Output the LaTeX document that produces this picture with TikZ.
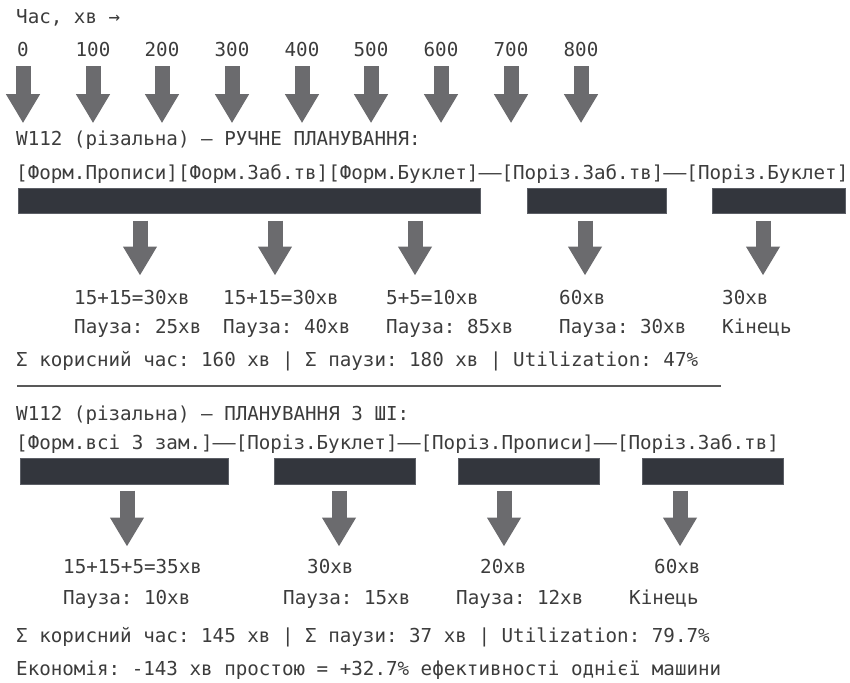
\documentclass[tikz,border=0pt]{standalone}
\usepackage{fontspec}
\setmonofont{DejaVu Sans Mono}
\usepackage{tikz}
\usetikzlibrary{positioning, calc}
\usetikzlibrary{arrows.meta}
\definecolor{textgray}{HTML}{3C3C3C}
\definecolor{arrowgray}{HTML}{6B6B6E}
\definecolor{bardark}{HTML}{33363D}
\definecolor{baredge}{HTML}{5C5F66}
\tikzstyle{txt}=[inner sep=0pt,anchor=base west,text=textgray,
font=\ttfamily\fontsize{19.2}{23}\selectfont]
\tikzstyle{tlabel}=[txt,anchor=base]
\tikzstyle{barbox}=[rectangle,anchor=north west,inner sep=0pt,
fill=bardark,draw=baredge,line width=0.6pt,minimum height=25pt]
\tikzstyle{bigarrow}=[color=arrowgray,line width=15pt,
-{Triangle[width=32pt,length=29pt,fill=arrowgray]}]
\tikzstyle{sepline}=[draw=textgray!85,line width=1.4pt]
\newcommand{\wdash}{\makebox[1.2em]{\scalebox{2}[1]{—}}}

\begin{document}
\begin{tikzpicture}[x=1pt,y=-1pt]
    \useasboundingbox (0,0) rectangle (850,682);

    % time axis
    \node[txt] (axis) at (16,24) {Час, хв →};
    \node[tlabel] (t0) at (23,57) {0};
    \node[tlabel] (t1) at (93,57) {100};
    \node[tlabel] (t2) at (162,57) {200};
    \node[tlabel] (t3) at (232,57) {300};
    \node[tlabel] (t4) at (302,57) {400};
    \node[tlabel] (t5) at (371,57) {500};
    \node[tlabel] (t6) at (441,57) {600};
    \node[tlabel] (t7) at (511,57) {700};
    \node[tlabel] (t8) at (581,57) {800};

    % manual planning
    \node[txt] (h1) at (16,145) {W112 (різальна) — РУЧНЕ ПЛАНУВАННЯ:};
    \draw[bigarrow] ($(t0.south)+(0,9)$) -- ($(t0.south |- h1.north)+(0,-7)$);
    \draw[bigarrow] ($(t1.south)+(0,9)$) -- ($(t1.south |- h1.north)+(0,-7)$);
    \draw[bigarrow] ($(t2.south)+(0,9)$) -- ($(t2.south |- h1.north)+(0,-7)$);
    \draw[bigarrow] ($(t3.south)+(0,9)$) -- ($(t3.south |- h1.north)+(0,-7)$);
    \draw[bigarrow] ($(t4.south)+(0,9)$) -- ($(t4.south |- h1.north)+(0,-7)$);
    \draw[bigarrow] ($(t5.south)+(0,9)$) -- ($(t5.south |- h1.north)+(0,-7)$);
    \draw[bigarrow] ($(t6.south)+(0,9)$) -- ($(t6.south |- h1.north)+(0,-7)$);
    \draw[bigarrow] ($(t7.south)+(0,9)$) -- ($(t7.south |- h1.north)+(0,-7)$);
    \draw[bigarrow] ($(t8.south)+(0,9)$) -- ($(t8.south |- h1.north)+(0,-7)$);

    \node[txt] (seq1) at (16,179) {[Форм.Прописи][Форм.Заб.тв][Форм.Буклет]\wdash[Поріз.Заб.тв]\wdash[Поріз.Буклет]};
    \node[barbox,minimum width=462pt] (b11) at (18,188) {};
    \node[barbox,minimum width=139pt] (b12) at (527,188) {};
    \node[barbox,minimum width=133pt] (b13) at (712,188) {};

    \node[txt] (v11) at (74,304) {15+15=30хв};
    \node[txt] (v12) at (223,304) {15+15=30хв};
    \node[txt] (v13) at (386,304) {5+5=10хв};
    \node[txt] (v14) at (559,304) {60хв};
    \node[txt] (v15) at (722,304) {30хв};
    \node[txt] (u11) at (74,333) {Пауза: 25хв};
    \node[txt] (u12) at (223,333) {Пауза: 40хв};
    \node[txt] (u13) at (386,333) {Пауза: 85хв};
    \node[txt] (u14) at (559,333) {Пауза: 30хв};
    \node[txt] (u15) at (722,333) {Кінець};

    \coordinate (p11) at (140,0);
    \coordinate (p12) at (275,0);
    \coordinate (p13) at (415,0);
    \coordinate (p14) at (585,0);
    \coordinate (p15) at (763,0);
    \draw[bigarrow] ($(b11.south -| p11)+(0,7)$) -- ($(v11.north -| p11)+(0,-14)$);
    \draw[bigarrow] ($(b11.south -| p12)+(0,7)$) -- ($(v12.north -| p12)+(0,-14)$);
    \draw[bigarrow] ($(b11.south -| p13)+(0,7)$) -- ($(v13.north -| p13)+(0,-14)$);
    \draw[bigarrow] ($(b12.south -| p14)+(0,7)$) -- ($(v14.north -| p14)+(0,-14)$);
    \draw[bigarrow] ($(b13.south -| p15)+(0,7)$) -- ($(v15.north -| p15)+(0,-14)$);

    \node[txt] (sum1) at (16,366) {Σ корисний час: 160 хв | Σ паузи: 180 хв | Utilization: 47\%};
    \draw[sepline] (17,386) -- (721,386);

    % AI planning
    \node[txt] (h2) at (16,420) {W112 (різальна) — ПЛАНУВАННЯ З ШІ:};
    \node[txt] (seq2) at (16,449) {[Форм.всі 3 зам.]\wdash[Поріз.Буклет]\wdash[Поріз.Прописи]\wdash[Поріз.Заб.тв]};
    \node[barbox,minimum width=208pt,minimum height=26pt] (b21) at (20,458) {};
    \node[barbox,minimum width=141pt,minimum height=26pt] (b22) at (274,458) {};
    \node[barbox,minimum width=141pt,minimum height=26pt] (b23) at (458,458) {};
    \node[barbox,minimum width=141pt,minimum height=26pt] (b24) at (642,458) {};

    \node[txt] (v21) at (63,573) {15+15+5=35хв};
    \node[txt] (v22) at (307,573) {30хв};
    \node[txt] (v23) at (480,573) {20хв};
    \node[txt] (v24) at (654,573) {60хв};
    \node[txt] (u21) at (63,604) {Пауза: 10хв};
    \node[txt] (u22) at (283,604) {Пауза: 15хв};
    \node[txt] (u23) at (456,604) {Пауза: 12хв};
    \node[txt] (u24) at (629,604) {Кінець};

    \coordinate (p21) at (127,0);
    \coordinate (p22) at (339,0);
    \coordinate (p23) at (504,0);
    \coordinate (p24) at (680,0);
    \draw[bigarrow] ($(b21.south -| p21)+(0,6)$) -- ($(v21.north -| p21)+(0,-12)$);
    \draw[bigarrow] ($(b22.south -| p22)+(0,6)$) -- ($(v22.north -| p22)+(0,-12)$);
    \draw[bigarrow] ($(b23.south -| p23)+(0,6)$) -- ($(v23.north -| p23)+(0,-12)$);
    \draw[bigarrow] ($(b24.south -| p24)+(0,6)$) -- ($(v24.north -| p24)+(0,-12)$);

    \node[txt] (sum2) at (16,642) {Σ корисний час: 145 хв | Σ паузи: 37 хв | Utilization: 79.7\%};
    \node[txt] (econ) at (16,675) {Економія: -143 хв простою = +32.7\% ефективності однієї машини};
\end{tikzpicture}
\end{document}
